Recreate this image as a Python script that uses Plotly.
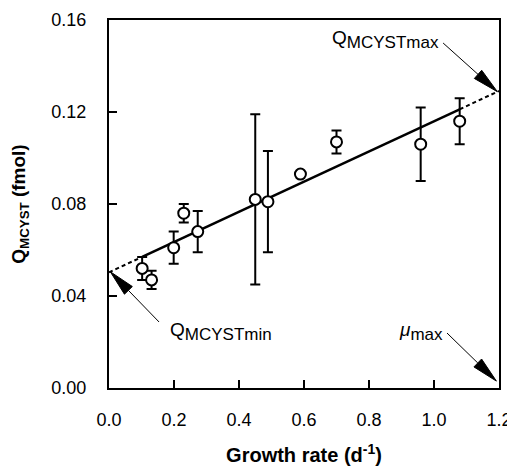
import plotly.graph_objects as go

# ---- data ----
growth_rate = [0.102, 0.131, 0.199, 0.230, 0.273, 0.450, 0.489, 0.589, 0.700, 0.959, 1.079]
q_mcyst = [0.052, 0.047, 0.061, 0.076, 0.068, 0.082, 0.081, 0.093, 0.107, 0.106, 0.116]
q_err = [0.005, 0.004, 0.007, 0.004, 0.009, 0.037, 0.022, 0.0, 0.005, 0.016, 0.010]
fit_intercept = 0.0503
fit_slope = 0.0657
x_ticks = [0.0, 0.2, 0.4, 0.6, 0.8, 1.0, 1.2]
y_ticks = [0.00, 0.04, 0.08, 0.12, 0.16]

# page body has an 8px margin, so the figure is sized to fit the window
W, H = 507, 458
ML, MR, MT, MB = 101, 16, 12, 78
XR = [0.0, 1.2]
YR = [0.0, 0.16]
px_x = (XR[1] - XR[0]) / (W - ML - MR)   # data units per pixel
px_y = (YR[1] - YR[0]) / (H - MT - MB)

def fit(x):
    return fit_intercept + fit_slope * x

xmin, xmax = min(growth_rate), max(growth_rate)

fig = go.Figure()

# dashed extrapolations
for xa, xb in [(XR[0], xmin), (xmax, XR[1])]:
    fig.add_trace(go.Scatter(x=[xa, xb], y=[fit(xa), fit(xb)], mode="lines",
                             line=dict(color="black", width=2, dash="4px,3px"),
                             showlegend=False, hoverinfo="skip"))
# solid regression
fig.add_trace(go.Scatter(x=[xmin, xmax], y=[fit(xmin), fit(xmax)], mode="lines",
                         line=dict(color="black", width=2.5),
                         showlegend=False, hoverinfo="skip"))
# data points
fig.add_trace(go.Scatter(x=growth_rate, y=q_mcyst, mode="markers",
                         marker=dict(symbol="circle", size=11, color="white",
                                     line=dict(color="black", width=2)),
                         error_y=dict(type="data", array=q_err, visible=True,
                                      color="black", thickness=2, width=5),
                         showlegend=False))

# arrows: (tail_x, tail_y, tip_x, tip_y) in data units
arrows = [
    (1.028, 0.150, 1.195, fit(1.195)),
    (0.154, 0.0287, 0.004, fit(0.004)),
    (1.040, 0.0239, 1.192, 0.003),
]
HEAD_LEN, HEAD_HALF = 26, 5.5
for tx, ty, hx, hy in arrows:
    dxp = (hx - tx) / px_x
    dyp = (hy - ty) / px_y
    L = (dxp ** 2 + dyp ** 2) ** 0.5
    ux, uy = dxp / L, dyp / L
    nx, ny = -uy, ux
    bx, by = hx - HEAD_LEN * ux * px_x, hy - HEAD_LEN * uy * px_y
    p1 = (bx + nx * HEAD_HALF * px_x, by + ny * HEAD_HALF * px_y)
    p2 = (bx - nx * HEAD_HALF * px_x, by - ny * HEAD_HALF * px_y)
    fig.add_shape(type="line", x0=tx, y0=ty, x1=bx, y1=by,
                  line=dict(color="black", width=1))
    fig.add_shape(type="path",
                  path=f"M {hx},{hy} L {p1[0]},{p1[1]} L {p2[0]},{p2[1]} Z",
                  fillcolor="black", line=dict(color="black", width=1))

sub = "<span style='font-size:17px'>{}</span>"
fig.add_annotation(x=1.020, y=0.1517, xanchor="right", yanchor="middle",
                   text="Q<sub>" + sub.format("MCYSTmax") + "</sub>",
                   showarrow=False, font=dict(size=19, color="black"))
fig.add_annotation(x=0.180, y=0.0245, xanchor="left", yanchor="middle",
                   text="Q<sub>" + sub.format("MCYSTmin") + "</sub>",
                   showarrow=False, font=dict(size=19, color="black"))
fig.add_annotation(x=1.034, y=0.0245, xanchor="right", yanchor="middle",
                   text="<i>μ</i><sub>" + sub.format("max") + "</sub>",
                   showarrow=False, font=dict(size=19, color="black"))

axis_common = dict(showline=True, linecolor="black", linewidth=2, mirror=True,
                   ticks="inside", ticklen=8, tickwidth=2, tickcolor="black",
                   showgrid=False, zeroline=False, automargin=False,
                   tickfont=dict(family="Liberation Sans", size=18, color="black"))
fig.update_xaxes(range=XR, tickvals=x_ticks,
                 ticktext=[f"{v:.1f}" for v in x_ticks],
                 ticklabelstandoff=14,
                 title=dict(text="Growth rate (d<sup>-1</sup>)", standoff=24,
                            font=dict(family="Liberation Sans", size=20,
                                      color="black", weight="bold")),
                 **axis_common)
fig.update_yaxes(range=YR, tickvals=y_ticks,
                 ticktext=[f"{v:.2f}" for v in y_ticks],
                 ticklabelstandoff=17,
                 title=dict(text="Q<sub>MCYST</sub> (fmol)", standoff=22,
                            font=dict(family="Liberation Sans", size=19,
                                      color="black", weight="bold")),
                 **axis_common)

fig.update_layout(width=W, height=H,
                  margin=dict(l=ML, r=MR, t=MT, b=MB, autoexpand=False),
                  plot_bgcolor="white", paper_bgcolor="white",
                  font=dict(family="Liberation Sans", color="black"),
                  showlegend=False)

fig.write_html("out.html")
